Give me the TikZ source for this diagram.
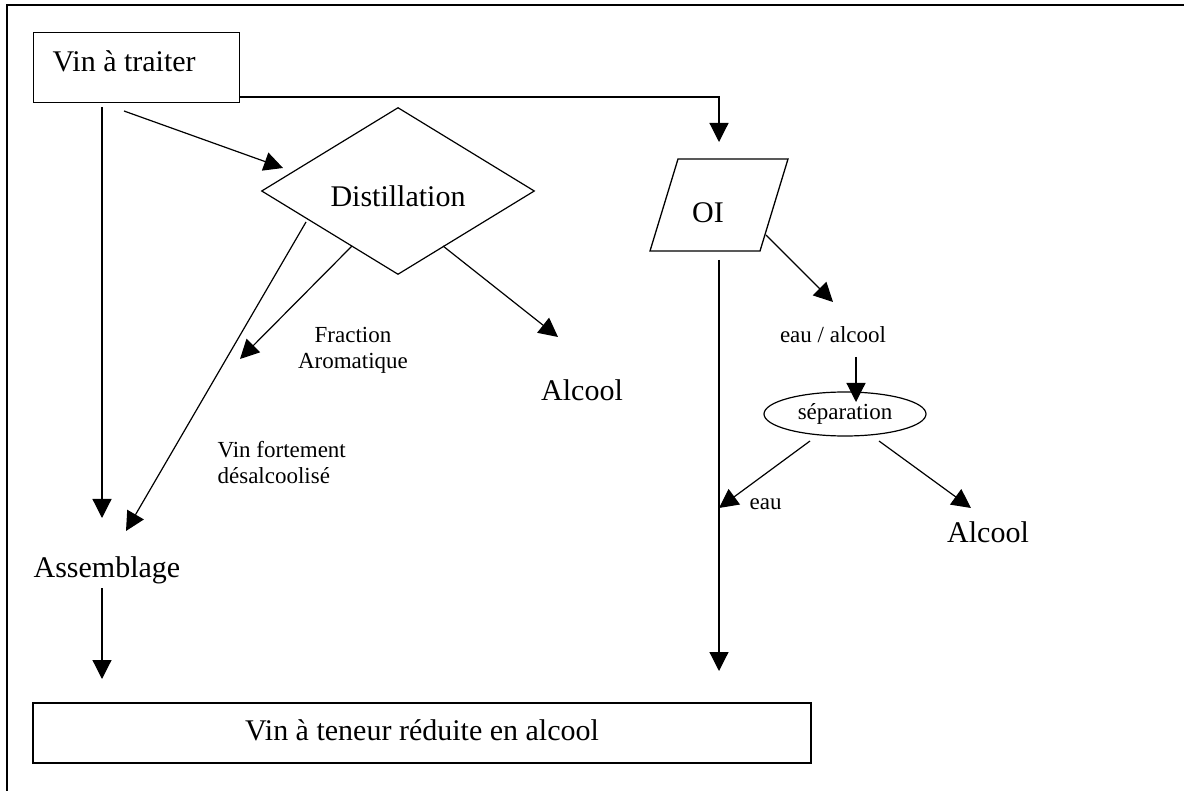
\documentclass[tikz,border=0pt]{standalone}
\usepackage{fontspec}
\setmainfont{Liberation Serif}
\usetikzlibrary{arrows.meta,shapes.geometric}
\begin{document}
\begin{tikzpicture}[x=1pt,y=-1pt,
  line width=1.2pt,
  big/.style={font=\fontsize{30}{36}\selectfont, inner sep=0pt},
  small/.style={font=\fontsize{23}{26}\selectfont, inner sep=0pt},
  box/.style={draw, rectangle, inner sep=0pt, line width=1.3pt},
  arr/.style={-{Triangle[length=19pt,width=19pt]}, line width=1.2pt},
  conn/.style={line width=1.2pt}]
\useasboundingbox (0,0) rectangle (1184,791);
% outer frame (top and left sides)
\coordinate (frTL) at (7,5);
\coordinate (frTR) at (1184,5);
\coordinate (frBL) at (7,791);
\draw[line width=1.6pt] (frTR) -- (frTL) -- (frBL);

% Vin a traiter
\node[box, minimum width=206pt, minimum height=70pt, anchor=north west] (vin) at (33,32) {};
\node[big, anchor=base west] (vintxt) at (52,72) {Vin à traiter};

% Distillation diamond
\node[draw, diamond, inner sep=0pt, minimum width=273pt, minimum height=136pt,
      big, text height=32pt, text depth=0pt, line width=1.2pt] (dist) at (398,191) {Distillation};

% OI parallelogram
\coordinate (oiA) at (678,159);
\coordinate (oiB) at (788,159);
\coordinate (oiC) at (760,251);
\coordinate (oiD) at (650,251);
\draw[line width=1.3pt] (oiA) -- (oiB) -- (oiC) -- (oiD) -- cycle;
\node[big, anchor=base] (oi) at (708,223) {OI};

% separation ellipse
\node[draw, ellipse, inner sep=0pt, minimum width=162pt, minimum height=44pt,
      small, line width=1.2pt] (sep) at (845,414) {séparation};

% labels
\node[small, align=center] (fract) at (353,350) {Fraction\\Aromatique};
\node[big, anchor=base] (alc1) at (582,401) {Alcool};
\node[small, align=left, anchor=west] (vinfort) at (217,463) {Vin fortement\\désalcoolisé};
\node[big, anchor=base west] (assem) at (33,577) {Assemblage};
\node[small, anchor=base] (eaualc) at (833,343) {eau / alcool};
\node[small, anchor=base west] (eau) at (749,510) {eau};
\node[big, anchor=base] (alc2) at (988,542) {Alcool};

% final box
\node[box, minimum width=778pt, minimum height=60pt, big,
      text height=20.5pt, text depth=6.5pt] (final) at (422,733) {Vin à teneur réduite en alcool};

% connector end points
\coordinate (a1s) at (124,111); \coordinate (a1e) at (283,168);
\coordinate (a2s) at (102,107); \coordinate (a2e) at (102,518);
\coordinate (a3s) at (239,97);  \coordinate (a3m) at (719,97); \coordinate (a3e) at (719,142);
\coordinate (a4s) at (306,222); \coordinate (a4e) at (126,531);
\coordinate (a5s) at (352,246); \coordinate (a5e) at (240,359);
\coordinate (a6s) at (443,246); \coordinate (a6e) at (558,337);
\coordinate (a7s) at (766,235); \coordinate (a7e) at (833,302);
\coordinate (a8s) at (856,357); \coordinate (a8e) at (856,402);
\coordinate (a9s) at (719,260); \coordinate (a9e) at (719,671);
\coordinate (a10s) at (810,441); \coordinate (a10e) at (719,508);
\coordinate (a11s) at (879,441); \coordinate (a11e) at (971,508);
\coordinate (a12s) at (102,588); \coordinate (a12e) at (102,679);

\draw[arr] (a1s) -- (a1e);
\draw[arr] (a2s) -- (a2e);
\draw[arr] (a3s) -- (a3m) -- (a3e);
\draw[arr] (a4s) -- (a4e);
\draw[arr] (a5s) -- (a5e);
\draw[arr] (a6s) -- (a6e);
\draw[arr] (a7s) -- (a7e);
\draw[arr] (a8s) -- (a8e);
\draw[arr] (a9s) -- (a9e);
\draw[arr] (a10s) -- (a10e);
\draw[arr] (a11s) -- (a11e);
\draw[arr] (a12s) -- (a12e);
\end{tikzpicture}
\end{document}
